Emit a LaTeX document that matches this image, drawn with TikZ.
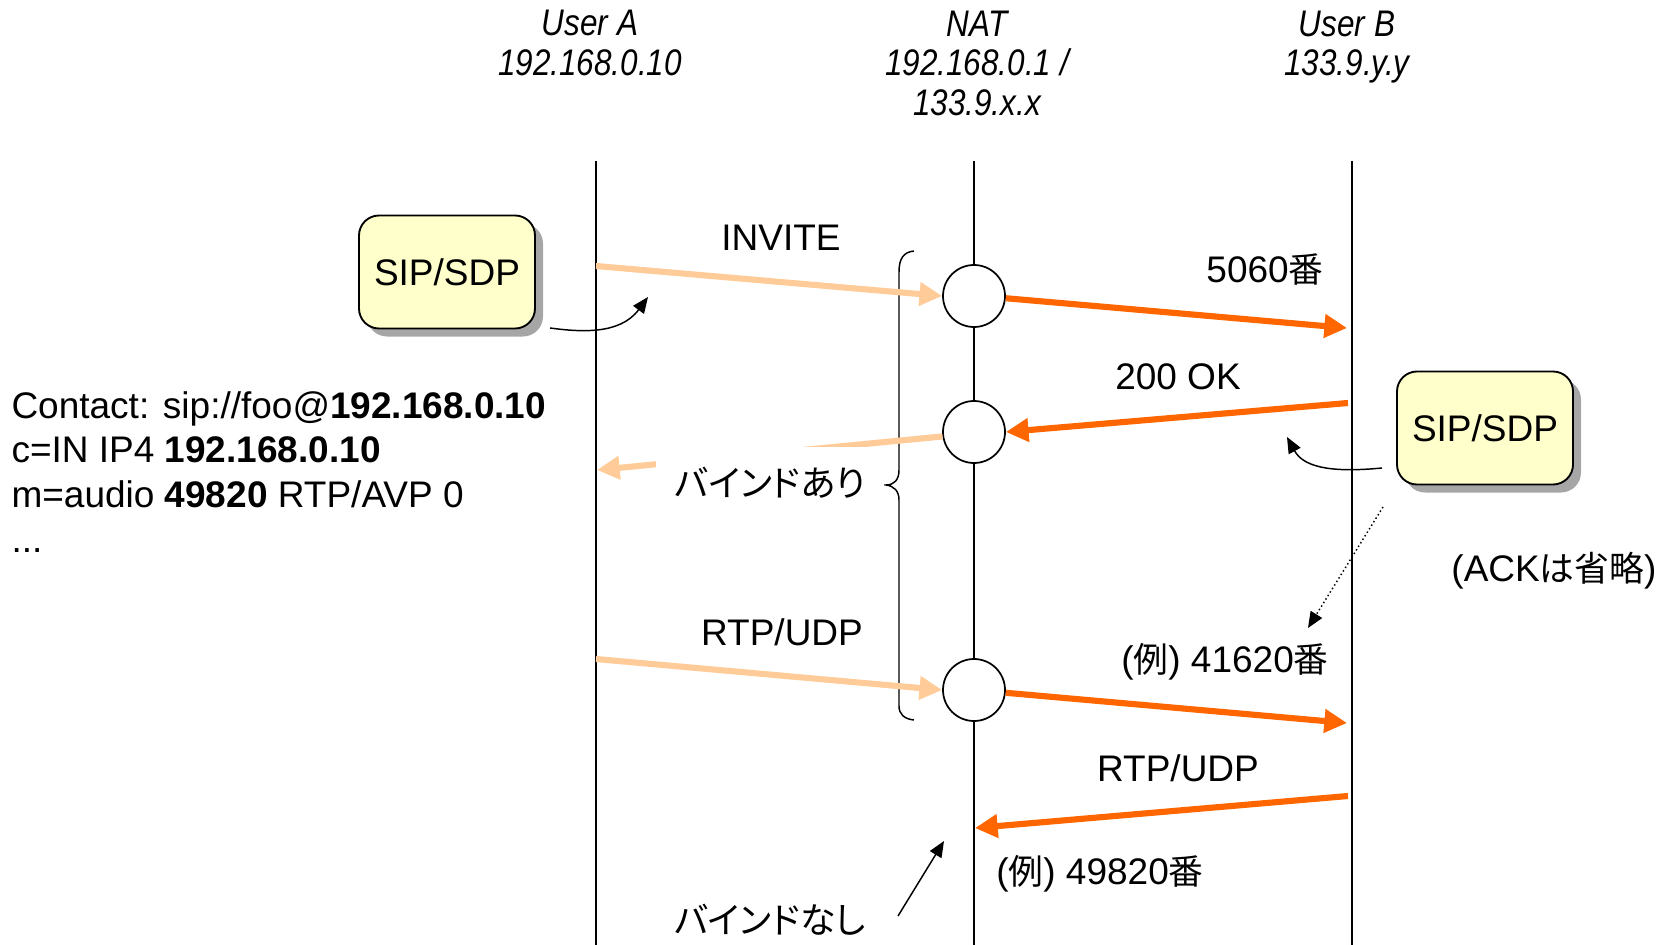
\documentclass[tikz,border=0pt]{standalone}
\usepackage{fontspec}
\setmainfont{Liberation Sans}
\newfontfamily\hdrfont[FakeStretch=0.85]{Liberation Sans}
\newfontfamily\jpfont[Scale=0.94]{Noto Sans CJK JP}
\newfontfamily\jpkana[Scale=0.97,RawFeature=+palt]{Noto Sans CJK JP}
\newcommand{\jtxt}[1]{{\jpfont #1}}
\usetikzlibrary{arrows.meta,shadows}

\definecolor{peach}{RGB}{255,204,153}
\definecolor{natorange}{RGB}{255,102,0}
\definecolor{memo}{RGB}{255,255,204}

\tikzset{every picture/.style={line width=0.75pt}}
\tikzset{
  lifeline/.style={line width=1.1pt},
  natport/.style={circle, draw, fill=white, line width=1.3pt, minimum size=46.5pt, inner sep=0pt},
  fatlight/.style={line width=4.6pt, draw=peach, -{Triangle[length=17pt,width=17pt]}},
  fatdark/.style={line width=4.6pt, draw=natorange, -{Triangle[length=17pt,width=17pt]}},
  thinarrow/.style={line width=1.1pt, -{Triangle[length=12pt,width=10pt]}},
  sipbox/.style={draw, line width=1.4pt, fill=memo, rounded corners=15pt, minimum width=132pt, minimum height=84.75pt,
    drop shadow={shadow xshift=6pt, shadow yshift=-6pt, fill=black!35, opacity=1}},
}

\begin{document}
\begin{tikzpicture}[x=0.75pt,y=0.75pt,yscale=-1,xscale=1,
  lbl/.style={inner sep=0.75pt, font=\fontsize{27.75}{33.5}\selectfont},
  hdr/.style={inner sep=0.75pt, align=center, font=\hdrfont\itshape\fontsize{27.75}{29.6}\selectfont}]
\useasboundingbox (0,0) rectangle (1664,945);

% Text Node
\node[hdr] (userA) at (590,43) {User A\\192.168.0.10};
% Text Node
\node[hdr] (nat) at (977,63) {NAT\\192.168.0.1 /\\133.9.x.x};
% Text Node
\node[hdr] (userB) at (1347,47) {User B\\133.9.y.y};

%Straight Lines
\coordinate (Atop) at (596,161);
\coordinate (Abot) at (596,945);
\draw[lifeline] (Atop) -- (Abot);
%Straight Lines
\coordinate (Ntop) at (974,161);
\coordinate (Nbot) at (974,945);
\draw[lifeline] (Ntop) -- (Nbot);
%Straight Lines
\coordinate (Btop) at (1352,161);
\coordinate (Bbot) at (1352,945);
\draw[lifeline] (Btop) -- (Bbot);

%Shape: Circle
\node[natport] (port1) at (974,296) {};
\node[natport] (port2) at (974,432) {};
\node[natport] (port3) at (974,690) {};

%Shape: Brace
\draw[line width=1.1pt] (914,251) .. controls (904,252) and (899,258) .. (899,272) -- (899,470) .. controls (899,480) and (894,485) .. (886,485) .. controls (894,486) and (899,491) .. (899,500) -- (899,706) .. controls (899,714) and (904,719) .. (914,720);

% INVITE / 5060
\coordinate (inviteA) at (596,266);
\coordinate (inviteB) at (1347,328);
\draw[fatlight] (inviteA) -- (port1.west);
\draw[fatdark] (port1.-4) -- (inviteB);
% 200 OK
\coordinate (okB) at (1348,403);
\coordinate (okA) at (597,470);
\draw[fatdark] (okB) -- (port2.east);
\draw[fatlight] (port2.188) -- (okA);
% RTP/UDP
\coordinate (rtpA) at (596,659);
\coordinate (rtpB) at (1347,723);
\draw[fatlight] (rtpA) -- (port3.west);
\draw[fatdark] (port3.-5) -- (rtpB);
\coordinate (backB) at (1348,796);
\coordinate (backN) at (975,828);
\draw[fatdark] (backB) -- (backN);

% Text Node
\node[lbl] (invite) at (781,238) {INVITE};
% Text Node
\node[lbl] (port5060) at (1265,270) {5060\jtxt{番}};
% Text Node
\node[lbl] (ok200) at (1178,377) {200 OK};
% Text Node
\node[lbl, fill=white, minimum width=171pt, minimum height=54pt] (bound) at (770,483) {\jpkana バインドあり};
% Text Node
\node[lbl] (rtpleft) at (782,632) {RTP/UDP};
% Text Node
\node[lbl] (port41620) at (1225,662) {(\jtxt{例}) 41620\jtxt{番}};
% Text Node
\node[lbl] (rtpright) at (1178,768) {RTP/UDP};
% Text Node
\node[lbl] (port49820) at (1100,874) {(\jtxt{例}) 49820\jtxt{番}};
% Text Node
\node[lbl] (unbound) at (770,920) {\jpkana バインドなし};
% Text Node
\node[lbl] (ackomit) at (1554,571) {(ACK\jtxt{は省略})};
% Text Node
\node[lbl, align=left, anchor=north west, inner sep=0pt] (sdp) at (11,391) {Contact: sip://foo@\textbf{192.168.0.10}\\c=IN IP4 \textbf{192.168.0.10}\\m=audio \textbf{49820} RTP/AVP 0\\...};

%Shape: Rounded Rect
\node[sipbox, lbl] (sipA) at (447,272) {SIP/SDP};
\node[sipbox, lbl] (sipB) at (1485,428) {SIP/SDP};

%Curve Lines
\coordinate (memoA) at (550,328);
\coordinate (memoAtip) at (648,297);
\draw[thinarrow] (memoA) .. controls (580,332) and (620,335) .. (memoAtip);
%Curve Lines
\coordinate (memoB) at (1382,468);
\coordinate (memoBtip) at (1287,437);
\draw[thinarrow] (memoB) .. controls (1340,472) and (1305,470) .. (memoBtip);
%Straight Lines
\coordinate (ackfrom) at (1383,507);
\coordinate (ackto) at (1308,628);
\draw[thinarrow, dotted] (ackfrom) -- (ackto);
%Straight Lines
\coordinate (unboundfrom) at (898,916);
\coordinate (unboundto) at (944,841);
\draw[thinarrow] (unboundfrom) -- (unboundto);

\end{tikzpicture}
\end{document}
